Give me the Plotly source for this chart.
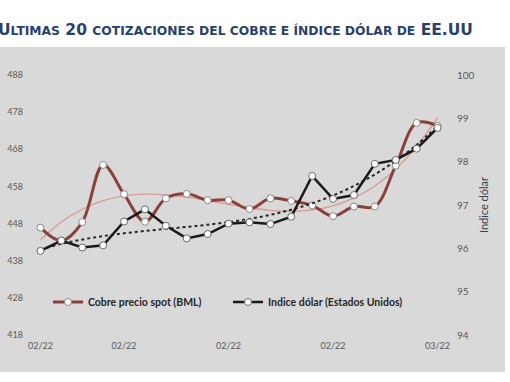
import numpy as np
import plotly.graph_objects as go

# ---- data ----
idx = list(range(20))
cobre = [446.9, 443.4, 448.4, 463.8, 455.9, 448.5, 454.8, 456.0, 454.3, 454.3,
         451.9, 454.8, 454.1, 452.9, 450.0, 452.6, 452.6, 463.6, 475.1, 474.3]
dolar = [95.94, 96.18, 96.02, 96.07, 96.62, 96.90, 96.52, 96.23, 96.33, 96.57,
         96.60, 96.56, 96.73, 97.67, 97.14, 97.23, 97.95, 98.04, 98.30, 98.78]
tick_pos = [0, 4, 9, 14, 19]
tick_txt = ["02/22", "02/22", "02/22", "02/22", "03/22"]
left_ticks = [418, 428, 438, 448, 458, 468, 478, 488]
right_ticks = [94, 95, 96, 97, 98, 99, 100]

# trend lines (regressions of the series, as in the original spreadsheet)
x_arr = np.array(idx, dtype=float)
cobre_tr = np.polyval(np.polyfit(x_arr, cobre, 3), x_arr)
dolar_tr = np.polyval(np.polyfit(x_arr, dolar, 3), x_arr)

W, H = 510, 382
ML, MR, MT, MB = 30, 62, 75, 47
PW, PH = W - ML - MR, H - MT - MB

def px_x(p):
    return (p - ML) / PW

def px_y(p):
    return (H - MB - p) / PH

fig = go.Figure()
fig.add_trace(go.Scatter(x=idx, y=list(cobre_tr), mode="lines", showlegend=False,
                         line=dict(color="#d99a94", width=1.3, shape="spline"),
                         hoverinfo="skip"))
fig.add_trace(go.Scatter(x=idx, y=list(dolar_tr), mode="lines", showlegend=False, yaxis="y2",
                         line=dict(color="#262626", width=2, dash="dot", shape="spline"),
                         hoverinfo="skip"))
fig.add_trace(go.Scatter(x=idx, y=cobre, mode="lines+markers", name="Cobre precio spot (BML)",
                         line=dict(color="#8a403a", width=3, shape="spline", smoothing=1),
                         marker=dict(size=7, color="white", line=dict(color="#8a8a8a", width=1))))
fig.add_trace(go.Scatter(x=idx, y=dolar, mode="lines+markers", name="Indice dólar (Estados Unidos)",
                         yaxis="y2",
                         line=dict(color="#1a1a1a", width=2.5),
                         marker=dict(size=7, color="white", line=dict(color="#6a6a6a", width=1))))

title_html = ('U<span style="font-size:12.3px">LTIMAS</span> 20 '
              '<span style="font-size:12.3px">COTIZACIONES DEL COBRE E ÍNDICE DÓLAR DE</span> EE.UU')

tick_font = dict(family="Lato", size=9, color="#595959")
fig.update_layout(
    width=W, height=H,
    margin=dict(l=ML, r=MR, t=MT, b=MB, autoexpand=False),
    paper_bgcolor="white", plot_bgcolor="rgba(0,0,0,0)",
    xaxis=dict(range=[-0.5, 19.5], tickvals=tick_pos, ticktext=tick_txt, showgrid=False,
               zeroline=False, showline=False, tickfont=tick_font, ticklabelstandoff=4),
    yaxis=dict(range=[418, 488], tickvals=left_ticks, showgrid=False, zeroline=False,
               showline=False, tickfont=tick_font, ticklabelstandoff=6),
    yaxis2=dict(range=[94, 100], tickvals=right_ticks, overlaying="y", side="right",
                showgrid=False, zeroline=False, showline=False,
                tickfont=dict(family="Lato", size=10, color="#595959"), ticklabelstandoff=8,
                title=dict(text="Indice dólar", font=dict(family="Lato", size=11, color="#404040"),
                           standoff=6)),
    legend=dict(orientation="h", x=px_x(48), y=px_y(302), xanchor="left", yanchor="middle",
                bgcolor="rgba(0,0,0,0)", entrywidth=135, entrywidthmode="pixels",
                font=dict(family="Lato", size=10.5, color="#262626", weight="bold")),
    shapes=[dict(type="rect", xref="paper", yref="paper", x0=px_x(0), x1=px_x(505),
                 y0=px_y(372), y1=px_y(47), fillcolor="#d9d9d9", line=dict(width=0),
                 layer="below")],
    annotations=[dict(text=title_html,
                      xref="paper", yref="paper", x=px_x(-4), y=px_y(30),
                      xanchor="left", yanchor="middle", showarrow=False,
                      font=dict(family="DejaVu Sans", size=15.5, color="#2b3f6c", weight="bold"))],
)

fig.write_html("out.html", config={"displayModeBar": False},
               post_script="document.body.style.margin='0';")
